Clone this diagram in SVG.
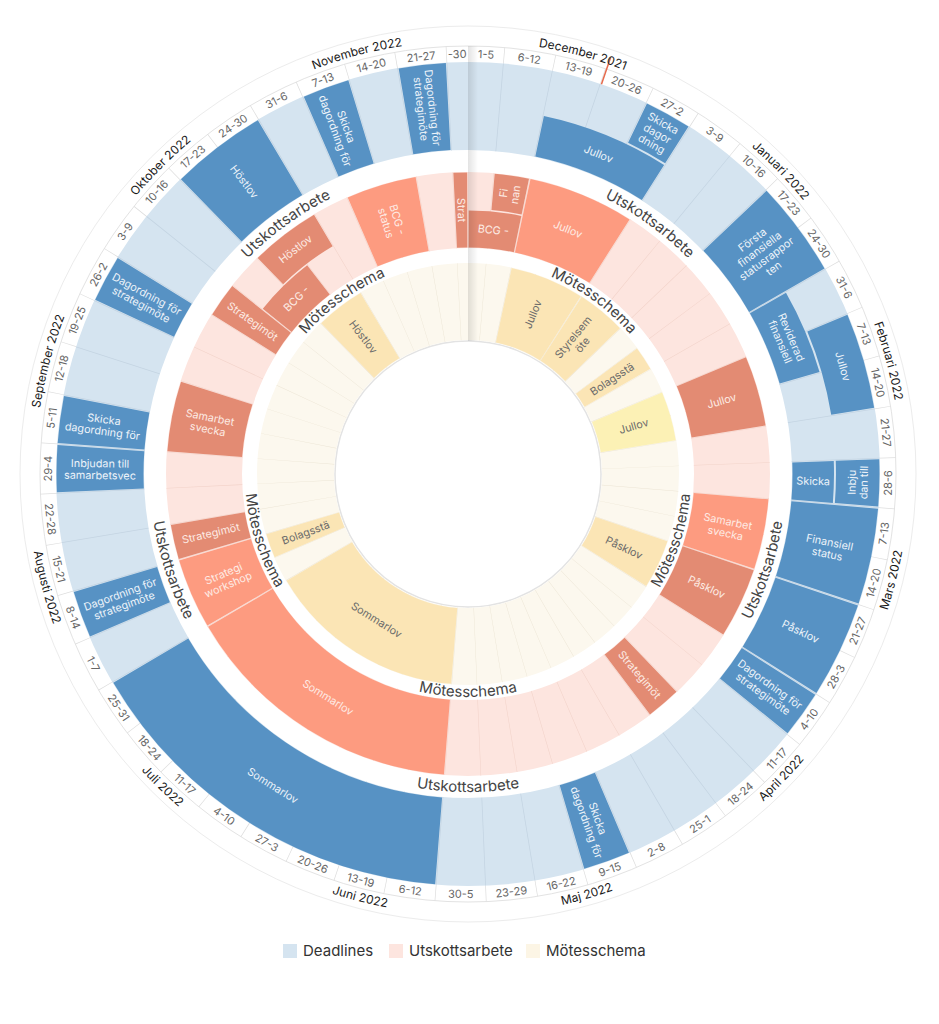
<svg xmlns="http://www.w3.org/2000/svg" width="939" height="1024" viewBox="0 0 939 1024">
<defs>
<style>
text{font-family:"Inter","Noto Sans","Liberation Sans",sans-serif;}
.ring circle{fill:none}
.wk{font-size:11px;fill:#666;text-anchor:middle;dominant-baseline:central}
.mo{font-size:12px;fill:#1a1a1a;text-anchor:middle}
.rl{font-size:15px;fill:#444;text-anchor:middle}
.lb text{font-size:10.8px;fill:#eef4fa;text-anchor:middle;dominant-baseline:central}
.lu text{font-size:10.8px;fill:#fdebe5;text-anchor:middle;dominant-baseline:central}
.lm text{font-size:10.8px;fill:#6a6a6a;text-anchor:middle;dominant-baseline:central}
.lg{font-size:15px;fill:#333}
.db{stroke:#5792c4}
.um{stroke:#fd9b80}
.ud{stroke:#e38b73}
.my{stroke:#fbe5b5}
</style>
<linearGradient id="sh" x1="0" x2="1" y1="0" y2="0"><stop offset="0" stop-color="#000" stop-opacity="0.11"/><stop offset="1" stop-color="#000" stop-opacity="0"/></linearGradient>
<path id="mt" d="M468,907 A433,433 0 1 1 468,41 A433,433 0 1 1 468,907"/>
<path id="mb" d="M468,33 A441,441 0 1 0 468,915 A441,441 0 1 0 468,33"/>
<path id="ut" d="M468,782 A308,308 0 1 1 468,166 A308,308 0 1 1 468,782"/>
<path id="ub" d="M468,156 A318,318 0 1 0 468,792 A318,318 0 1 0 468,156"/>
<path id="tt" d="M468,688 A214,214 0 1 1 468,260 A214,214 0 1 1 468,688"/>
<path id="tb" d="M468,251 A223,223 0 1 0 468,697 A223,223 0 1 0 468,251"/>
</defs>
<rect width="939" height="1024" fill="#fff"/>
<circle cx="468" cy="474" r="448" fill="none" stroke="#ececec" stroke-width="1"/>
<circle cx="468" cy="474" r="428" fill="none" stroke="#e3e3e3" stroke-width="1"/>
<circle cx="468" cy="474" r="133" fill="#fff" stroke="#e3e3e3" stroke-width="1.5"/>
<g class="ring" transform="translate(468 474) rotate(-90)">
  <circle r="420" stroke="#dedede" stroke-width="16" pathLength="365" stroke-dasharray="0.1 6.9" stroke-dashoffset="-4.95"/>
  <circle r="368" stroke="#d5e4f0" stroke-width="88"/>
  <circle r="368" stroke="#c4d4e2" stroke-width="88" pathLength="365" stroke-dasharray="0.12 6.88" stroke-dashoffset="-4.94"/>
  <circle r="264" stroke="#fde5df" stroke-width="76"/>
  <circle r="264" stroke="#f2d3ca" stroke-width="76" pathLength="365" stroke-dasharray="0.12 6.88" stroke-dashoffset="-4.94"/>
  <circle r="172.5" stroke="#fcf8ee" stroke-width="77"/>
  <circle r="172.5" stroke="#ebe4d4" stroke-width="77" pathLength="365" stroke-dasharray="0.14 6.86" stroke-dashoffset="-4.93"/>
</g>
<g id="deadlines" class="ring" transform="translate(468 474) rotate(-90)">
  <circle class="db" r="345.25" stroke-width="41.5" pathLength="365" stroke-dasharray="0 12.15 20.7 999"/>
  <circle class="db" r="389.75" stroke-width="43.5" pathLength="365" stroke-dasharray="0 26.15 6.7 999"/>
  <circle class="db" r="368" stroke-width="87" pathLength="365" stroke-dasharray="0 47.15 13.7 999"/>
  <circle class="db" r="345.25" stroke-width="41.5" pathLength="365" stroke-dasharray="0 61.15 13.7 999"/>
  <circle class="db" r="389.75" stroke-width="43.5" pathLength="365" stroke-dasharray="0 68.15 13.7 999"/>
  <circle class="db" r="345.25" stroke-width="41.5" pathLength="365" stroke-dasharray="0 89.15 6.7 999"/>
  <circle class="db" r="389.75" stroke-width="43.5" pathLength="365" stroke-dasharray="0 89.15 6.7 999"/>
  <circle class="db" r="368" stroke-width="87" pathLength="365" stroke-dasharray="0 96.15 13.7 999"/>
  <circle class="db" r="368" stroke-width="87" pathLength="365" stroke-dasharray="0 110.15 13.7 999"/>
  <circle class="db" r="368" stroke-width="87" pathLength="365" stroke-dasharray="0 124.15 6.7 999"/>
  <circle class="db" r="368" stroke-width="87" pathLength="365" stroke-dasharray="0 159.15 6.7 999"/>
  <circle class="db" r="368" stroke-width="87" pathLength="365" stroke-dasharray="0 187.15 55.7 999"/>
  <circle class="db" r="368" stroke-width="87" pathLength="365" stroke-dasharray="0 250.15 6.7 999"/>
  <circle class="db" r="368" stroke-width="87" pathLength="365" stroke-dasharray="0 271.15 6.7 999"/>
  <circle class="db" r="368" stroke-width="87" pathLength="365" stroke-dasharray="0 278.15 6.7 999"/>
  <circle class="db" r="368" stroke-width="87" pathLength="365" stroke-dasharray="0 299.15 6.7 999"/>
  <circle class="db" r="368" stroke-width="87" pathLength="365" stroke-dasharray="0 320.15 13.7 999"/>
  <circle class="db" r="368" stroke-width="87" pathLength="365" stroke-dasharray="0 341.15 6.7 999"/>
  <circle class="db" r="368" stroke-width="87" pathLength="365" stroke-dasharray="0 355.15 6.7 999"/>
</g>
<g id="utskott" class="ring" transform="translate(468 474) rotate(-90)">
  <circle class="ud" r="245" stroke-width="37" pathLength="365" stroke-dasharray="0 0.15 11.7 999"/>
  <circle class="ud" r="283.25" stroke-width="36.5" pathLength="365" stroke-dasharray="0 5.15 6.7 999"/>
  <circle class="um" r="264" stroke-width="75" pathLength="365" stroke-dasharray="0 12.15 20.7 999"/>
  <circle class="ud" r="264" stroke-width="75" pathLength="365" stroke-dasharray="0 68.15 13.7 999"/>
  <circle class="um" r="264" stroke-width="75" pathLength="365" stroke-dasharray="0 96.15 13.7 999"/>
  <circle class="ud" r="264" stroke-width="75" pathLength="365" stroke-dasharray="0 110.15 13.7 999"/>
  <circle class="ud" r="264" stroke-width="75" pathLength="365" stroke-dasharray="0 138.15 6.7 999"/>
  <circle class="um" r="264" stroke-width="75" pathLength="365" stroke-dasharray="0 187.15 55.7 999"/>
  <circle class="um" r="264" stroke-width="75" pathLength="365" stroke-dasharray="0 243.15 13.7 999"/>
  <circle class="ud" r="264" stroke-width="75" pathLength="365" stroke-dasharray="0 257.15 6.7 999"/>
  <circle class="ud" r="264" stroke-width="75" pathLength="365" stroke-dasharray="0 278.15 13.7 999"/>
  <circle class="ud" r="264" stroke-width="75" pathLength="365" stroke-dasharray="0 306.15 6.7 999"/>
  <circle class="ud" r="245" stroke-width="37" pathLength="365" stroke-dasharray="0 313.15 13.7 999"/>
  <circle class="ud" r="283.25" stroke-width="36.5" pathLength="365" stroke-dasharray="0 320.15 13.7 999"/>
  <circle class="um" r="264" stroke-width="75" pathLength="365" stroke-dasharray="0 341.15 13.7 999"/>
  <circle class="ud" r="264" stroke-width="75" pathLength="365" stroke-dasharray="0 362.15 2.7 999"/>
</g>
<g id="motesschema" class="ring" transform="translate(468 474) rotate(-90)">
  <circle class="my" r="172.5" stroke-width="76" pathLength="365" stroke-dasharray="0 12.15 20.7 999"/>
  <circle class="my" r="172.5" stroke-width="76" pathLength="365" stroke-dasharray="0 33.15 13.7 999"/>
  <circle class="my" r="172.5" stroke-width="76" pathLength="365" stroke-dasharray="0 54.15 6.7 999"/>
  <circle r="172.5" stroke="#fcf1b5" stroke-width="76" pathLength="365" stroke-dasharray="0 68.15 13.7 999"/>
  <circle class="my" r="172.5" stroke-width="76" pathLength="365" stroke-dasharray="0 110.15 13.7 999"/>
  <circle class="my" r="172.5" stroke-width="76" pathLength="365" stroke-dasharray="0 187.15 55.7 999"/>
  <circle class="my" r="172.5" stroke-width="76" pathLength="365" stroke-dasharray="0 250.15 6.7 999"/>
  <circle class="my" r="172.5" stroke-width="76" pathLength="365" stroke-dasharray="0 320.15 13.7 999"/>
</g>
<rect x="468" y="46" width="10" height="295" fill="url(#sh)"/>
<line x1="468" y1="62" x2="468" y2="34" stroke="#e66a4c" stroke-width="1.5" transform="rotate(18.9 468 474)"/>
<g id="weeks" class="wk">
<text transform="rotate(2.47 468 474)" x="468" y="54">1-5</text>
<text transform="rotate(8.384 468 474)" x="468" y="54">6-12</text>
<text transform="rotate(15.288 468 474)" x="468" y="54">13-19</text>
<text transform="rotate(22.192 468 474)" x="468" y="54">20-26</text>
<text transform="rotate(29.096 468 474)" x="468" y="54">27-2</text>
<text transform="rotate(36 468 474)" x="468" y="54">3-9</text>
<text transform="rotate(42.904 468 474)" x="468" y="54">10-16</text>
<text transform="rotate(49.808 468 474)" x="468" y="54">17-23</text>
<text transform="rotate(56.712 468 474)" x="468" y="54">24-30</text>
<text transform="rotate(63.616 468 474)" x="468" y="54">31-6</text>
<text transform="rotate(70.521 468 474)" x="468" y="54">7-13</text>
<text transform="rotate(77.425 468 474)" x="468" y="54">14-20</text>
<text transform="rotate(84.329 468 474)" x="468" y="54">21-27</text>
<text transform="rotate(-88.767 468 474)" x="468" y="894">28-6</text>
<text transform="rotate(-81.863 468 474)" x="468" y="894">7-13</text>
<text transform="rotate(-74.959 468 474)" x="468" y="894">14-20</text>
<text transform="rotate(-68.055 468 474)" x="468" y="894">21-27</text>
<text transform="rotate(-61.151 468 474)" x="468" y="894">28-3</text>
<text transform="rotate(-54.247 468 474)" x="468" y="894">4-10</text>
<text transform="rotate(-47.342 468 474)" x="468" y="894">11-17</text>
<text transform="rotate(-40.438 468 474)" x="468" y="894">18-24</text>
<text transform="rotate(-33.534 468 474)" x="468" y="894">25-1</text>
<text transform="rotate(-26.63 468 474)" x="468" y="894">2-8</text>
<text transform="rotate(-19.726 468 474)" x="468" y="894">9-15</text>
<text transform="rotate(-12.822 468 474)" x="468" y="894">16-22</text>
<text transform="rotate(-5.918 468 474)" x="468" y="894">23-29</text>
<text transform="rotate(0.986 468 474)" x="468" y="894">30-5</text>
<text transform="rotate(7.89 468 474)" x="468" y="894">6-12</text>
<text transform="rotate(14.795 468 474)" x="468" y="894">13-19</text>
<text transform="rotate(21.699 468 474)" x="468" y="894">20-26</text>
<text transform="rotate(28.603 468 474)" x="468" y="894">27-3</text>
<text transform="rotate(35.507 468 474)" x="468" y="894">4-10</text>
<text transform="rotate(42.411 468 474)" x="468" y="894">11-17</text>
<text transform="rotate(49.315 468 474)" x="468" y="894">18-24</text>
<text transform="rotate(56.219 468 474)" x="468" y="894">25-31</text>
<text transform="rotate(63.123 468 474)" x="468" y="894">1-7</text>
<text transform="rotate(70.027 468 474)" x="468" y="894">8-14</text>
<text transform="rotate(76.932 468 474)" x="468" y="894">15-21</text>
<text transform="rotate(83.836 468 474)" x="468" y="894">22-28</text>
<text transform="rotate(-89.26 468 474)" x="468" y="54">29-4</text>
<text transform="rotate(-82.356 468 474)" x="468" y="54">5-11</text>
<text transform="rotate(-75.452 468 474)" x="468" y="54">12-18</text>
<text transform="rotate(-68.548 468 474)" x="468" y="54">19-25</text>
<text transform="rotate(-61.644 468 474)" x="468" y="54">26-2</text>
<text transform="rotate(-54.74 468 474)" x="468" y="54">3-9</text>
<text transform="rotate(-47.836 468 474)" x="468" y="54">10-16</text>
<text transform="rotate(-40.932 468 474)" x="468" y="54">17-23</text>
<text transform="rotate(-34.027 468 474)" x="468" y="54">24-30</text>
<text transform="rotate(-27.123 468 474)" x="468" y="54">31-6</text>
<text transform="rotate(-20.219 468 474)" x="468" y="54">7-13</text>
<text transform="rotate(-13.315 468 474)" x="468" y="54">14-20</text>
<text transform="rotate(-6.411 468 474)" x="468" y="54">21-27</text>
<text transform="rotate(-1.479 468 474)" x="468" y="54">-30</text>
</g>
<g id="months">
<text class="mo"><textPath href="#mt" startOffset="54.25%">December 2021</textPath></text>
<text class="mo"><textPath href="#mt" startOffset="62.74%">Januari 2022</textPath></text>
<text class="mo"><textPath href="#mt" startOffset="70.82%">Februari 2022</textPath></text>
<text class="mo"><textPath href="#mb" startOffset="71.10%">Mars 2022</textPath></text>
<text class="mo"><textPath href="#mb" startOffset="62.74%">April 2022</textPath></text>
<text class="mo"><textPath href="#mb" startOffset="54.38%">Maj 2022</textPath></text>
<text class="mo"><textPath href="#mb" startOffset="46.03%">Juni 2022</textPath></text>
<text class="mo"><textPath href="#mb" startOffset="37.67%">Juli 2022</textPath></text>
<text class="mo"><textPath href="#mb" startOffset="29.18%">Augusti 2022</textPath></text>
<text class="mo"><textPath href="#mt" startOffset="29.18%">September 2022</textPath></text>
<text class="mo"><textPath href="#mt" startOffset="37.53%">Oktober 2022</textPath></text>
<text class="mo"><textPath href="#mt" startOffset="45.89%">November 2022</textPath></text>
</g>
<g id="ring-labels">
<text class="rl"><textPath href="#ut" startOffset="60%">Utskottsarbete</textPath></text>
<text class="rl"><textPath href="#ut" startOffset="40%">Utskottsarbete</textPath></text>
<text class="rl"><textPath href="#ub" startOffset="70%">Utskottsarbete</textPath></text>
<text class="rl"><textPath href="#ub" startOffset="50%">Utskottsarbete</textPath></text>
<text class="rl"><textPath href="#ub" startOffset="30%">Utskottsarbete</textPath></text>
<text class="rl"><textPath href="#tt" startOffset="60%">Mötesschema</textPath></text>
<text class="rl"><textPath href="#tt" startOffset="40%">Mötesschema</textPath></text>
<text class="rl"><textPath href="#tb" startOffset="70%">Mötesschema</textPath></text>
<text class="rl"><textPath href="#tb" startOffset="50%">Mötesschema</textPath></text>
<text class="rl"><textPath href="#tb" startOffset="30%">Mötesschema</textPath></text>
</g>
<g id="deadline-labels" class="lb">
<text transform="rotate(22.19 468 474)" x="468" y="128.75">Jullov</text>
<text transform="rotate(29.1 468 474)" x="468" y="84.25"><tspan x="468" dy="-1.1em">Skicka</tspan><tspan x="468" dy="1.1em">dagor</tspan><tspan x="468" dy="1.1em">dning</tspan></text>
<text transform="rotate(53.26 468 474) rotate(-90 468 106)" x="468" y="106"><tspan x="468" dy="-1.65em">Första</tspan><tspan x="468" dy="1.1em">finansiella</tspan><tspan x="468" dy="1.1em">statusrappor</tspan><tspan x="468" dy="1.1em">ten</tspan></text>
<text transform="rotate(67.07 468 474)" x="468" y="128.75"><tspan x="468" dy="-0.55em">Reviderad</tspan><tspan x="468" dy="1.1em">finansiell</tspan></text>
<text transform="rotate(73.97 468 474)" x="468" y="84.25">Jullov</text>
<text transform="rotate(91.23 468 474) rotate(-90 468 128.75)" x="468" y="128.75">Skicka</text>
<text transform="rotate(91.23 468 474) rotate(180 468 84.25)" x="468" y="84.25"><tspan x="468" dy="-0.55em">Inbju</tspan><tspan x="468" dy="1.1em">dan till</tspan></text>
<text transform="rotate(101.59 468 474) rotate(-90 468 106)" x="468" y="106"><tspan x="468" dy="-0.55em">Finansiell</tspan><tspan x="468" dy="1.1em">status</tspan></text>
<text transform="rotate(115.4 468 474) rotate(-90 468 106)" x="468" y="106">Påsklov</text>
<text transform="rotate(125.75 468 474) rotate(-90 468 106)" x="468" y="106"><tspan x="468" dy="-0.55em">Dagordning för</tspan><tspan x="468" dy="1.1em">strategimöte</tspan></text>
<text transform="rotate(160.27 468 474) rotate(-90 468 106)" x="468" y="106"><tspan x="468" dy="-0.55em">Skicka</tspan><tspan x="468" dy="1.1em">dagordning för</tspan></text>
<text transform="rotate(212.05 468 474) rotate(180 468 106)" x="468" y="106">Sommarlov</text>
<text transform="rotate(250.03 468 474) rotate(90 468 106)" x="468" y="106"><tspan x="468" dy="-0.55em">Dagordning för</tspan><tspan x="468" dy="1.1em">strategimöte</tspan></text>
<text transform="rotate(270.74 468 474) rotate(90 468 106)" x="468" y="106"><tspan x="468" dy="-0.55em">Inbjudan till</tspan><tspan x="468" dy="1.1em">samarbetsvec</tspan></text>
<text transform="rotate(277.64 468 474) rotate(90 468 106)" x="468" y="106"><tspan x="468" dy="-0.55em">Skicka</tspan><tspan x="468" dy="1.1em">dagordning för</tspan></text>
<text transform="rotate(298.36 468 474) rotate(90 468 106)" x="468" y="106"><tspan x="468" dy="-0.55em">Dagordning för</tspan><tspan x="468" dy="1.1em">strategimöte</tspan></text>
<text transform="rotate(322.52 468 474) rotate(90 468 106)" x="468" y="106">Höstlov</text>
<text transform="rotate(339.78 468 474) rotate(90 468 106)" x="468" y="106"><tspan x="468" dy="-0.55em">Skicka</tspan><tspan x="468" dy="1.1em">dagordning för</tspan></text>
<text transform="rotate(353.59 468 474) rotate(90 468 106)" x="468" y="106"><tspan x="468" dy="-0.55em">Dagordning för</tspan><tspan x="468" dy="1.1em">strategimöte</tspan></text>
</g>
<g id="utskott-labels" class="lu">
<text transform="rotate(5.92 468 474)" x="468" y="229">BCG -</text>
<text transform="rotate(8.38 468 474) rotate(-90 468 190.75)" x="468" y="190.75"><tspan x="468" dy="-0.55em">Fi</tspan><tspan x="468" dy="1.1em">nan</tspan></text>
<text transform="rotate(22.19 468 474)" x="468" y="210">Jullov</text>
<text transform="rotate(73.97 468 474) rotate(-90 468 210)" x="468" y="210">Jullov</text>
<text transform="rotate(101.59 468 474) rotate(-90 468 210)" x="468" y="210"><tspan x="468" dy="-0.55em">Samarbet</tspan><tspan x="468" dy="1.1em">svecka</tspan></text>
<text transform="rotate(115.4 468 474) rotate(-90 468 210)" x="468" y="210">Påsklov</text>
<text transform="rotate(139.56 468 474) rotate(-90 468 210)" x="468" y="210">Strategimöt</text>
<text transform="rotate(212.05 468 474) rotate(180 468 210)" x="468" y="210">Sommarlov</text>
<text transform="rotate(246.58 468 474) rotate(90 468 210)" x="468" y="210"><tspan x="468" dy="-0.55em">Strategi</tspan><tspan x="468" dy="1.1em">workshop</tspan></text>
<text transform="rotate(256.93 468 474) rotate(90 468 210)" x="468" y="210">Strategimöt</text>
<text transform="rotate(281.1 468 474) rotate(90 468 210)" x="468" y="210"><tspan x="468" dy="-0.55em">Samarbet</tspan><tspan x="468" dy="1.1em">svecka</tspan></text>
<text transform="rotate(305.26 468 474) rotate(90 468 210)" x="468" y="210">Strategimöt</text>
<text transform="rotate(315.62 468 474)" x="468" y="229">BCG -</text>
<text transform="rotate(322.52 468 474)" x="468" y="190.75">Höstlov</text>
<text transform="rotate(343.23 468 474) rotate(90 468 210)" x="468" y="210"><tspan x="468" dy="-0.55em">BCG -</tspan><tspan x="468" dy="1.1em">status</tspan></text>
<text transform="rotate(358.52 468 474) rotate(90 468 210)" x="468" y="210">Strat</text>
</g>
<g id="motes-labels" class="lm">
<text transform="rotate(22.19 468 474) rotate(-90 468 301.5)" x="468" y="301.5">Jullov</text>
<text transform="rotate(39.45 468 474) rotate(-90 468 301.5)" x="468" y="301.5"><tspan x="468" dy="-0.55em">Styrelsem</tspan><tspan x="468" dy="1.1em">öte</tspan></text>
<text transform="rotate(56.71 468 474) rotate(-90 468 301.5)" x="468" y="301.5">Bolagsstä</text>
<text transform="rotate(73.97 468 474) rotate(-90 468 301.5)" x="468" y="301.5">Jullov</text>
<text transform="rotate(115.4 468 474) rotate(-90 468 301.5)" x="468" y="301.5">Påsklov</text>
<text transform="rotate(212.05 468 474) rotate(180 468 301.5)" x="468" y="301.5">Sommarlov</text>
<text transform="rotate(250.03 468 474) rotate(90 468 301.5)" x="468" y="301.5">Bolagsstä</text>
<text transform="rotate(322.52 468 474) rotate(90 468 301.5)" x="468" y="301.5">Höstlov</text>
</g>
<g id="legend">
<rect x="283" y="944" width="14" height="14" fill="#d5e4f0"/>
<text class="lg" x="303" y="956">Deadlines</text>
<rect x="389" y="944" width="14" height="14" fill="#fde5df"/>
<text class="lg" x="409" y="956">Utskottsarbete</text>
<rect x="526" y="944" width="14" height="14" fill="#fcf5e5"/>
<text class="lg" x="546" y="956">Mötesschema</text>
</g>
</svg>
